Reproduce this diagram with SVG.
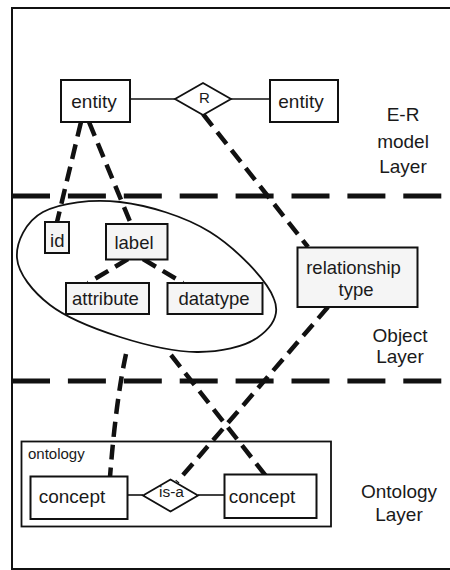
<svg xmlns="http://www.w3.org/2000/svg" width="450" height="570" viewBox="0 0 450 570">
  <style>
    .frame { fill: none; stroke: #111; stroke-width: 2; }
    .layer-sep { fill: none; stroke: #111; stroke-width: 5; stroke-dasharray: 38 17.9; }
    .box { fill: #fff; stroke: #111; stroke-width: 2; }
    .container { fill: none; stroke: #111; stroke-width: 1.8; }
    .obj { fill: #f5f5f5; stroke: #111; stroke-width: 2; }
    .rel { fill: #fff; stroke: #111; stroke-width: 1.8; }
    .thin { fill: none; stroke: #111; stroke-width: 1.6; }
    .link { fill: none; stroke: #111; stroke-width: 4.5; stroke-dasharray: 15 8; }
    .group { fill: none; stroke: #111; stroke-width: 1.8; }
    text { font-family: "Liberation Sans", Arial, sans-serif; fill: #1a1a1a; }
    .t19 { font-size: 19px; }
    .t18 { font-size: 18.5px; }
    .mid { text-anchor: middle; }
  </style>

  <!-- outer frame -->
  <rect class="frame" x="12" y="8" width="450" height="561"/>

  <!-- layer separators -->
  <g id="layer-separators">
    <line class="layer-sep" x1="12" y1="196" x2="450" y2="196"/>
    <line class="layer-sep" x1="12" y1="381" x2="450" y2="381"/>
  </g>

  <!-- layer captions -->
  <g id="layer-captions" class="t19 mid">
    <text x="403" y="121">E-R</text>
    <text x="403" y="148">model</text>
    <text x="403" y="173">Layer</text>
    <text x="400" y="342">Object</text>
    <text x="400" y="363">Layer</text>
    <text x="399" y="498">Ontology</text>
    <text x="399" y="521">Layer</text>
  </g>

  <!-- ontology container (outline only, links run across it) -->
  <g id="ontology">
    <rect class="container" x="21.5" y="441.5" width="309.5" height="85"/>
    <text x="28" y="459" font-size="15">ontology</text>
  </g>

  <!-- connectors -->
  <g id="connectors">
    <line class="thin" x1="130" y1="99" x2="175" y2="99"/>
    <line class="thin" x1="231" y1="99" x2="270" y2="99"/>
    <line class="thin" x1="128" y1="495" x2="143" y2="495"/>
    <line class="thin" x1="198" y1="495" x2="224" y2="495"/>
    <line class="link" x1="81" y1="122" x2="57" y2="222"/>
    <line class="link" x1="89" y1="122" x2="131" y2="224"/>
    <line class="link" x1="203" y1="114" x2="308" y2="247"/>
    <line class="link" x1="128" y1="259" x2="88" y2="283"/>
    <line class="link" x1="143" y1="259" x2="183" y2="283"/>
    <path class="link" d="M126,354 Q116,400 110,477"/>
    <line class="link" x1="171" y1="355" x2="266" y2="476"/>
    <line class="link" x1="328" y1="307" x2="177" y2="482"/>
  </g>

  <!-- object grouping outline -->
  <g id="object-cluster">
    <path class="group" d="M17,258 C15.8,242.5 25.8,221.3 43,212 C60.2,202.7 92.2,198.7 120,202 C147.8,205.3 184.2,216 210,232 C235.8,248 267.2,280.3 274,299 C281,316 270,329 257,338 C244,347 219.8,352.2 197,352 C174.2,351.8 144.5,344.8 120,337 C95.5,329.2 67.2,318.2 50,305 C32.8,291.8 18.2,273.5 17,258 Z"/>
  </g>

  <!-- E-R model layer -->
  <g id="entity-left">
    <rect class="box" x="61" y="80" width="69" height="42"/>
    <text class="t19 mid" x="94" y="108">entity</text>
  </g>
  <g id="relation-r">
    <polygon class="rel" points="175,99 203,83 231,99 203,115"/>
    <text class="mid" x="204.5" y="103" font-size="15">R</text>
  </g>
  <g id="entity-right">
    <rect class="box" x="270" y="80" width="68" height="42"/>
    <text class="t19 mid" x="301" y="108">entity</text>
  </g>

  <!-- object layer -->
  <g id="id">
    <rect class="obj" x="45" y="222" width="24" height="31"/>
    <text class="t18 mid" x="57.3" y="247">id</text>
  </g>
  <g id="label">
    <rect class="obj" x="106" y="224" width="61.5" height="35.5"/>
    <text class="t18 mid" x="134" y="248.5">label</text>
  </g>
  <g id="attribute">
    <rect class="obj" x="66" y="283" width="83" height="31"/>
    <text class="t18 mid" x="105.5" y="304.5">attribute</text>
  </g>
  <g id="datatype">
    <rect class="obj" x="167.5" y="283" width="95" height="31"/>
    <text class="t18 mid" x="214" y="304.5">datatype</text>
  </g>
  <g id="relationship-type">
    <rect class="obj" x="297.5" y="247.5" width="120" height="59.5"/>
    <text class="t18 mid" x="353.5" y="274">relationship</text>
    <text class="t18 mid" x="356" y="296">type</text>
  </g>

  <!-- ontology layer -->
  <g id="concept-left">
    <rect class="box" x="30.5" y="476.5" width="97" height="42.5"/>
    <text class="t19 mid" x="72" y="503">concept</text>
  </g>
  <g id="is-a">
    <polygon class="rel" points="143,495.5 170.5,479.5 198,495.5 170.5,511.5"/>
    <text class="mid" x="171.5" y="496.5" font-size="15.5">is-a</text>
  </g>
  <g id="concept-right">
    <rect class="box" x="224.5" y="474.5" width="92" height="43.5"/>
    <text class="t19 mid" x="262" y="503">concept</text>
  </g>
</svg>
